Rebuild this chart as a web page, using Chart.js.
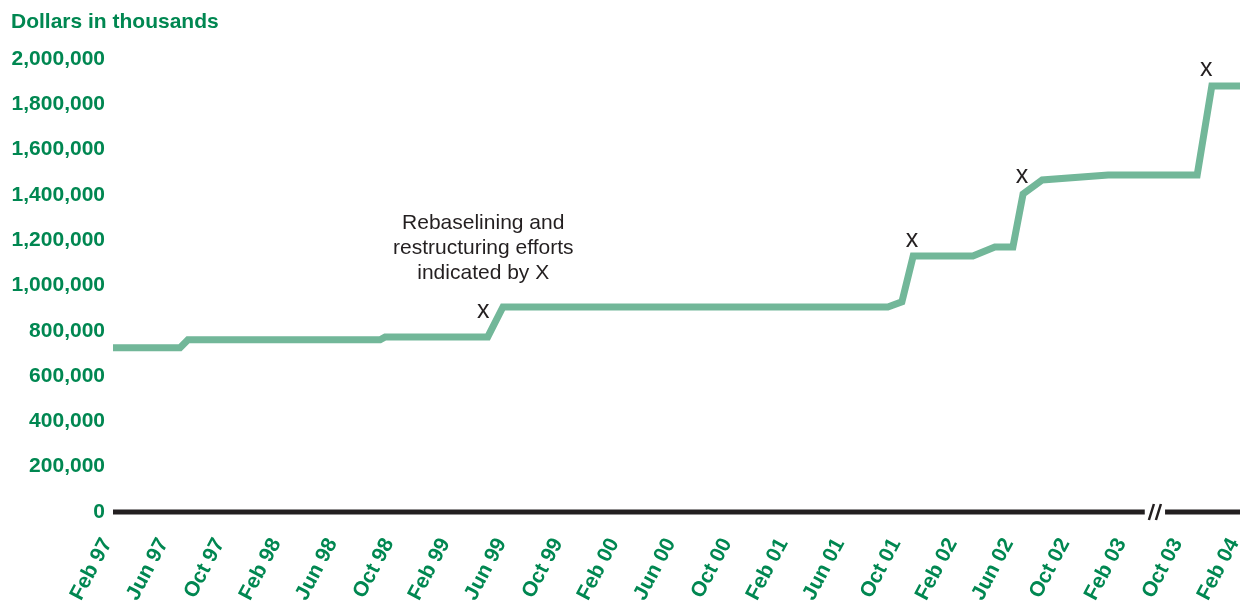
<!DOCTYPE html>
<html><head><meta charset="utf-8">
<script src="https://cdn.jsdelivr.net/npm/chart.js@4/dist/chart.umd.min.js"></script>
<style>html,body{margin:0;padding:0;background:#fff}#wrap{width:1254px;height:601px;position:relative}</style>
</head><body><div id="wrap"><canvas id="c" width="1254" height="601"></canvas></div>
<script>
// Tick labels (one per axis step; Feb 03 -> Oct 03 is a compressed break)
const tickLabels = ['Feb 97','Jun 97','Oct 97','Feb 98','Jun 98','Oct 98','Feb 99','Jun 99','Oct 99','Feb 00','Jun 00','Oct 00','Feb 01','Jun 01','Oct 01','Feb 02','Jun 02','Oct 02','Feb 03','Oct 03','Feb 04'];
// Line vertices: position on the tick-label scale, value in thousands of dollars
const lineX = [0, 1.19, 1.33, 4.74, 4.83, 6.65, 6.92, 13.75, 14.0, 14.2, 15.26, 15.65, 15.97, 16.15, 16.49, 17.66, 19.24, 19.5, 20];
const lineY = [725000, 725000, 760000, 760000, 773000, 773000, 905000, 905000, 928000, 1130000, 1130000, 1170000, 1170000, 1404000, 1466000, 1488000, 1488000, 1881000, 1881000];
// Rebaselining markers (X)
const markX = [6.57, 14.18, 16.13, 19.4];
const markY = [887000, 1201000, 1483000, 1956000];
// Note text
const noteLines = ['Rebaselining and', 'restructuring efforts', 'indicated by X'];
const noteX = 6.57;
const noteY = [1276000, 1166000, 1055000];
// Axis break
const breakFrom = 18.31, breakTo = 18.67;
const yTicks = [0, 200000, 400000, 600000, 800000, 1000000, 1200000, 1400000, 1600000, 1800000, 2000000];

const GREEN = '#008751';
const LINE = '#72b799';
const FONT = '"Liberation Sans", Arial, Helvetica, sans-serif';

const points = lineX.map((x, i) => ({x, y: lineY[i]}));

const extras = {
  id: 'extras',
  beforeDatasetsDraw(chart) {
    const {ctx, scales: {x, y}} = chart;
    const y0 = y.getPixelForValue(0);
    ctx.save();
    ctx.strokeStyle = '#231f20';
    ctx.lineWidth = 5;
    ctx.lineCap = 'butt';
    ctx.beginPath();
    ctx.moveTo(x.getPixelForValue(0), y0);
    ctx.lineTo(x.getPixelForValue(breakFrom), y0);
    ctx.moveTo(x.getPixelForValue(breakTo), y0);
    ctx.lineTo(x.getPixelForValue(20), y0);
    ctx.stroke();
    // break marks
    const bc = x.getPixelForValue((breakFrom + breakTo) / 2);
    ctx.lineWidth = 2.5;
    ctx.beginPath();
    ctx.moveTo(bc - 6, y0 + 8); ctx.lineTo(bc - 1, y0 - 8);
    ctx.moveTo(bc + 1, y0 + 8); ctx.lineTo(bc + 6, y0 - 8);
    ctx.stroke();
    ctx.restore();
  },
  afterDraw(chart) {
    const {ctx, scales: {x, y}} = chart;
    ctx.save();
    ctx.fillStyle = GREEN;
    ctx.font = 'bold 21px ' + FONT;
    ctx.textAlign = 'left';
    ctx.textBaseline = 'middle';
    ctx.fillText('Dollars in thousands', 11, 22);
    ctx.fillStyle = '#231f20';
    ctx.font = '21px ' + FONT;
    ctx.textAlign = 'center';
    noteLines.forEach((t, i) => ctx.fillText(t, x.getPixelForValue(noteX), y.getPixelForValue(noteY[i])));
    ctx.font = '25px ' + FONT;
    markX.forEach((mx, i) => ctx.fillText('x', x.getPixelForValue(mx), y.getPixelForValue(markY[i])));
    ctx.restore();
  }
};

new Chart(document.getElementById('c'), {
  type: 'line',
  data: {
    datasets: [{
      data: points,
      borderColor: LINE,
      borderWidth: 7,
      pointRadius: 0,
      tension: 0,
      fill: false,
      borderJoinStyle: 'miter',
      borderCapStyle: 'butt'
    }]
  },
  options: {
    responsive: false,
    devicePixelRatio: 1,
    animation: false,
    layout: {padding: {top: 59, right: 14, bottom: 0, left: 0}},
    plugins: {legend: {display: false}, tooltip: {enabled: false}, title: {display: false}},
    scales: {
      x: {
        type: 'linear', min: 0, max: 20,
        grid: {display: false, drawTicks: false},
        border: {display: false},
        afterBuildTicks: s => { s.ticks = tickLabels.map((_, i) => ({value: i})); },
        afterFit: s => { s.height = 89; s.paddingLeft = 0; s.paddingRight = 0; },
        ticks: {
          autoSkip: false, minRotation: 62, maxRotation: 62, padding: 22, labelOffset: -6,
          color: GREEN, font: {family: FONT, size: 21, weight: 'bold'},
          callback: v => tickLabels[v] ?? ''
        }
      },
      y: {
        min: 0, max: 2000000,
        grid: {display: false, drawTicks: false},
        border: {display: false},
        afterBuildTicks: s => { s.ticks = yTicks.map(v => ({value: v})); },
        afterFit: s => { s.width = 113; },
        ticks: {
          padding: 8, color: GREEN, font: {family: FONT, size: 21, weight: 'bold'},
          callback: v => v.toLocaleString('en-US')
        }
      }
    }
  },
  plugins: [extras]
});
</script></body></html>
